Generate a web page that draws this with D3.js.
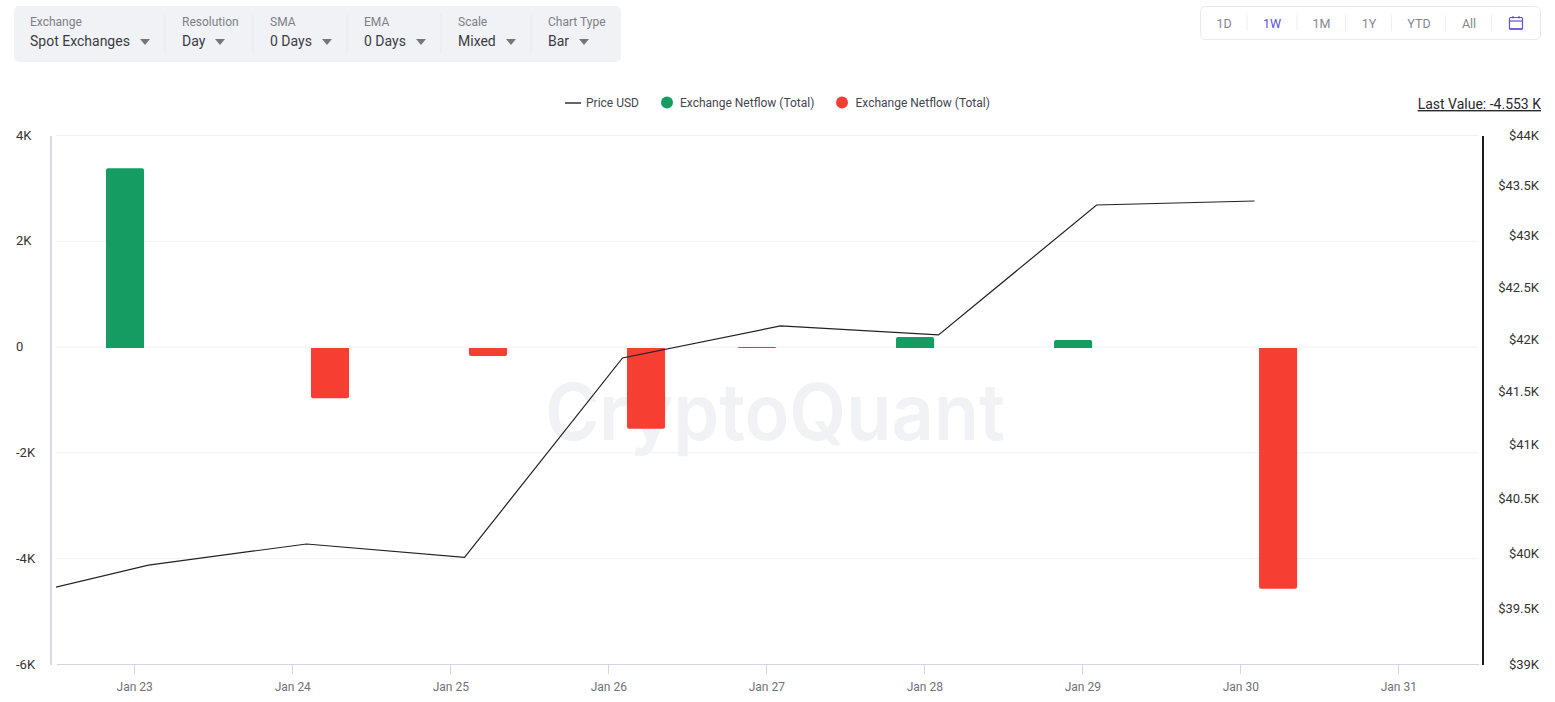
<!DOCTYPE html>
<html>
<head>
<meta charset="utf-8">
<script src="https://cdn.jsdelivr.net/npm/d3@7"></script>
<style>
  html, body { margin: 0; padding: 0; background: #fff; overflow: hidden; }
  svg { display: block; font-family: Roboto, sans-serif; }
  .axis path, .axis line { shape-rendering: crispEdges; }
</style>
</head>
<body>
<div id="chart"></div>
<script>
// chart data
const days = ["2024-01-22", "2024-01-23", "2024-01-24", "2024-01-25", "2024-01-26", "2024-01-27", "2024-01-28", "2024-01-29", "2024-01-30"];
const priceUsd = [39548, 39890, 40082, 39959, 41819, 42125, 42039, 43303, 43343];
const netflowIn = [null, 3400, null, null, null, 20, 210, 150, null];
const netflowOut = [null, null, -950, -150, -1525, null, null, null, -4553];
const leftTicks = [4000, 2000, 0, -2000, -4000, -6000];
const rightTicks = [44000, 43500, 43000, 42500, 42000, 41500, 41000, 40500, 40000, 39500, 39000];
const tickDays = ["2024-01-23", "2024-01-24", "2024-01-25", "2024-01-26", "2024-01-27", "2024-01-28", "2024-01-29", "2024-01-30", "2024-01-31"];
const legendItems = ["Price USD", "Exchange Netflow (Total)", "Exchange Netflow (Total)"];
const lastValue = "Last Value: -4.553 K";

// toolbar stuff
const dropdowns = [
  { label: "Exchange", value: "Spot Exchanges", x: 30, caret: 145 },
  { label: "Resolution", value: "Day", x: 182, caret: 220 },
  { label: "SMA", value: "0 Days", x: 270, caret: 327 },
  { label: "EMA", value: "0 Days", x: 364, caret: 421 },
  { label: "Scale", value: "Mixed", x: 458, caret: 511 },
  { label: "Chart Type", value: "Bar", x: 548, caret: 584 }
];
const dropdownSeps = [165, 253, 347, 441, 531];
const ranges = [
  { label: "1D", x: 1224 }, { label: "1W", x: 1272 }, { label: "1M", x: 1321.5 },
  { label: "1Y", x: 1369 }, { label: "YTD", x: 1419 }, { label: "All", x: 1469 }
];
const rangeSeps = [1247, 1297, 1345.5, 1391.5, 1445.5, 1491.5];

const WIDTH = 1555, HEIGHT = 702;
const plot = { left: 56, right: 1478, top: 135, bottom: 664 };
const GREEN = "#149c63", RED = "#f63e33";

const svg = d3.select("#chart").append("svg").attr("width", WIDTH).attr("height", HEIGHT);

// points sit a bit after the midnight tick
const parseDay = d3.utcParse("%Y-%m-%d");
const pointTime = d => d3.utcMinute.offset(parseDay(d), 130);

const x = d3.scaleUtc()
  .domain([new Date(Date.UTC(2024, 0, 22, 12, 7)), new Date(Date.UTC(2024, 0, 31, 12, 6))])
  .range([plot.left, plot.right]);
const yLeft = d3.scaleLinear().domain([-6000, 4000]).range([plot.bottom, plot.top]);
// "Mixed" scale: the price axis is logarithmic
const yRight = d3.scaleLog().domain([39000, 44000]).range([plot.bottom, plot.top]);
// two series share each day slot
const slot = d3.scaleBand().domain(["in", "out"]).range([-47, 47]).paddingInner(0.19).paddingOuter(0.095);

// toolbar
svg.append("rect").attr("x", 14).attr("y", 6).attr("width", 607).attr("height", 56).attr("rx", 5).attr("fill", "#f1f2f5");
svg.selectAll(".sep").data(dropdownSeps).enter().append("line").attr("class", "sep")
  .attr("x1", d => d).attr("x2", d => d).attr("y1", 14).attr("y2", 54)
  .attr("stroke", "#e9eaf0");
const dd = svg.selectAll(".dd").data(dropdowns).enter().append("g").attr("class", "dd");
dd.append("text").attr("x", d => d.x).attr("y", 26).attr("font-size", 12).attr("fill", "#7d7f88").text(d => d.label);
dd.append("text").attr("x", d => d.x).attr("y", 46).attr("font-size", 14).attr("fill", "#3a3c44").text(d => d.value);
dd.append("path").attr("d", d => `M${d.caret - 5},39 L${d.caret + 5},39 L${d.caret},45 Z`).attr("fill", "#74767e");

// range buttons
svg.append("rect").attr("x", 1200.5).attr("y", 6.5).attr("width", 340).attr("height", 33).attr("rx", 5)
  .attr("fill", "#fff").attr("stroke", "#e8eaf1");
svg.selectAll(".rsep").data(rangeSeps).enter().append("line").attr("class", "rsep")
  .attr("x1", d => d).attr("x2", d => d).attr("y1", 15).attr("y2", 31).attr("stroke", "#eceef3");
svg.selectAll(".range").data(ranges).enter().append("text").attr("class", "range")
  .attr("x", d => d.x).attr("y", 27.5).attr("text-anchor", "middle").attr("font-size", 12.5)
  .attr("fill", d => d.label === "1W" ? "#5a4fd6" : "#85878f").text(d => d.label);
const cal = svg.append("g").attr("fill", "none").attr("stroke", "#5f52e0").attr("stroke-width", 1.2);
cal.append("rect").attr("x", 1509.5).attr("y", 17.5).attr("width", 13).attr("height", 11.5).attr("rx", 1);
cal.append("line").attr("x1", 1509.5).attr("x2", 1522.5).attr("y1", 21).attr("y2", 21);
cal.append("line").attr("x1", 1513).attr("x2", 1513).attr("y1", 16).attr("y2", 18.5);
cal.append("line").attr("x1", 1519).attr("x2", 1519).attr("y1", 16).attr("y2", 18.5);
cal.append("line").attr("x1", 1509.5).attr("x2", 1522.5).attr("y1", 29).attr("y2", 29).attr("stroke-width", 1.6);

// legend
svg.append("line").attr("x1", 565).attr("x2", 581).attr("y1", 103).attr("y2", 103).attr("stroke", "#333").attr("stroke-width", 1.5);
svg.append("circle").attr("cx", 667).attr("cy", 102.5).attr("r", 6).attr("fill", GREEN);
svg.append("circle").attr("cx", 842).attr("cy", 102.5).attr("r", 6).attr("fill", RED);
svg.selectAll(".leg").data(legendItems).enter().append("text").attr("class", "leg")
  .attr("x", (d, i) => [586, 680, 855.5][i]).attr("y", 107).attr("font-size", 12).attr("fill", "#44464e").text(d => d);
svg.append("text").attr("x", 1541).attr("y", 109).attr("text-anchor", "end").attr("font-size", 14)
  .attr("fill", "#2a2a2e").attr("text-decoration", "underline").text(lastValue);

// watermark goes under the bars
svg.append("text").attr("x", 775).attr("y", 440).attr("text-anchor", "middle")
  .attr("font-family", "Inter, sans-serif").attr("font-size", 78).attr("font-weight", 600)
  .attr("textLength", 460).attr("lengthAdjust", "spacingAndGlyphs")
  .attr("fill", "#f1f2f5").text("CryptoQuant");

// grid
svg.append("g").selectAll("line").data(leftTicks.slice(0, -1)).enter().append("line")
  .attr("x1", plot.left).attr("x2", plot.right)
  .attr("y1", d => yLeft(d) + 0.5).attr("y2", d => yLeft(d) + 0.5)
  .attr("stroke", "#f0f1f4");

// axes
const fmtK = v => v === 0 ? "0" : `${v / 1000}K`;
const axisL = svg.append("g").attr("class", "axis").attr("transform", `translate(50.5,0)`)
  .call(d3.axisLeft(yLeft).tickValues(leftTicks).tickFormat(fmtK).tickSize(0).tickPadding(0));
axisL.select(".domain").attr("stroke", "#d6d7df").attr("stroke-width", 2);
axisL.selectAll("text").attr("x", -34.5).attr("text-anchor", "start").attr("font-family", "Roboto, sans-serif")
  .attr("font-size", 13).attr("fill", "#333");

const axisR = svg.append("g").attr("class", "axis").attr("transform", `translate(1482.5,0)`)
  .call(d3.axisRight(yRight).tickValues(rightTicks).tickFormat(v => `$${v / 1000}K`).tickSize(0).tickPadding(56.5));
axisR.select(".domain").attr("stroke", "#1a1a1a").attr("stroke-width", 2);
axisR.selectAll("text").attr("text-anchor", "end").attr("font-family", "Roboto, sans-serif")
  .attr("font-size", 13).attr("fill", "#333");

const axisB = svg.append("g").attr("class", "axis").attr("transform", `translate(0,${plot.bottom})`)
  .call(d3.axisBottom(x).tickValues(tickDays.map(parseDay)).tickFormat(d3.utcFormat("%b %-d")).tickSize(10).tickSizeOuter(0).tickPadding(8));
axisB.select(".domain").attr("stroke", "#d3d5e0").attr("stroke-width", 1);
axisB.selectAll("line").attr("stroke", "#d3d5e0");
axisB.selectAll("text").attr("font-family", "Roboto, sans-serif").attr("font-size", 12).attr("fill", "#6f7178");

// bars, only the far end is rounded
function barPath(d, i, key) {
  const bw = slot.bandwidth();
  const x0 = x(pointTime(days[i])) + slot(key);
  const y0 = yLeft(0), y1 = yLeft(d);
  const dir = y1 < y0 ? 1 : -1;
  const r = Math.min(2, Math.abs(y1 - y0));
  return `M${x0},${y0} L${x0},${y1 + dir * r} Q${x0},${y1} ${x0 + r},${y1} L${x0 + bw - r},${y1} Q${x0 + bw},${y1} ${x0 + bw},${y1 + dir * r} L${x0 + bw},${y0} Z`;
}
[["in", netflowIn, GREEN], ["out", netflowOut, RED]].forEach(([key, vals, color]) => {
  svg.append("g").attr("transform", "translate(0,1.4)").selectAll("path")
    .data(vals.map((v, i) => ({ v, i })).filter(d => d.v !== null))
    .enter().append("path")
    .attr("d", d => barPath(d.v, d.i, key))
    .attr("fill", color);
});

// price line, clipped to the plot because the first point is off screen
svg.append("clipPath").attr("id", "plotClip").append("rect")
  .attr("x", plot.left).attr("y", plot.top).attr("width", plot.right - plot.left).attr("height", plot.bottom - plot.top);
const line = d3.line().x((d, i) => x(pointTime(days[i]))).y(d => yRight(d));
svg.append("path").datum(priceUsd).attr("d", line).attr("clip-path", "url(#plotClip)")
  .attr("fill", "none").attr("stroke", "#222").attr("stroke-width", 1.2);
</script>
</body>
</html>
